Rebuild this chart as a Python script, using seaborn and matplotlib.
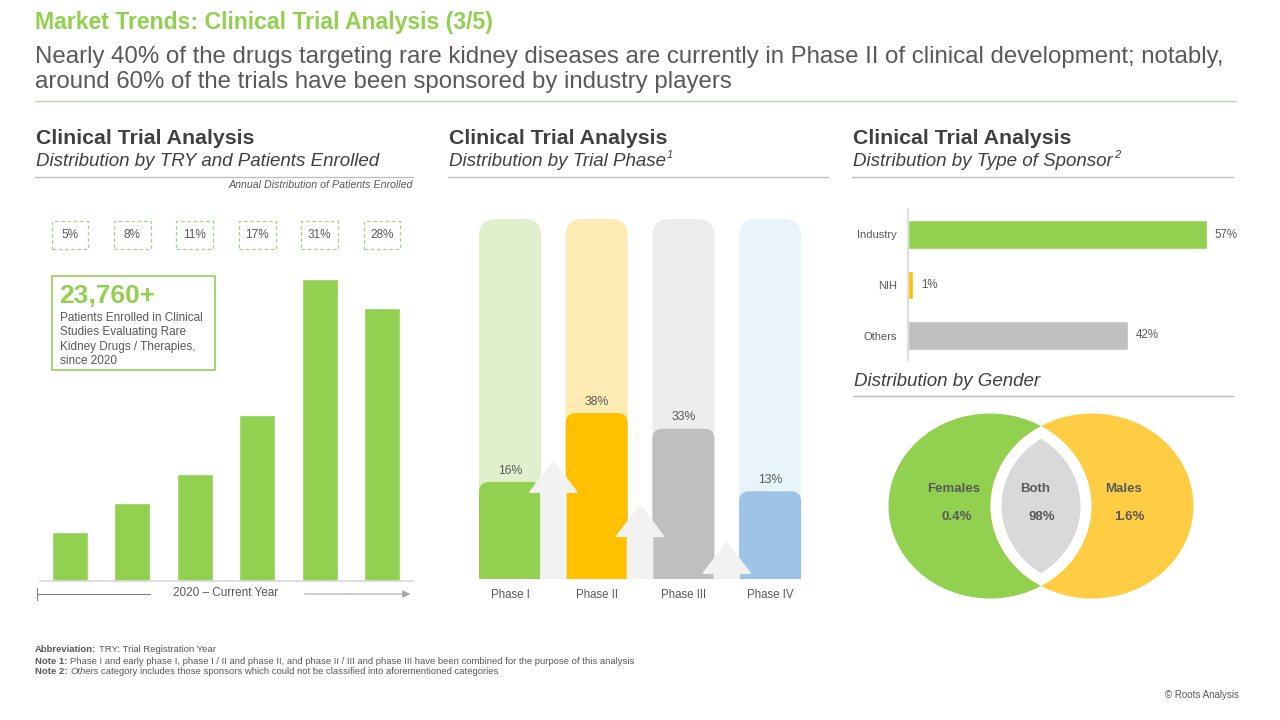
import matplotlib
matplotlib.use('Agg')
import matplotlib.pyplot as plt
import seaborn as sns
from matplotlib.patches import FancyBboxPatch, Rectangle, Ellipse, Polygon

# ---------------- data ----------------
try_years = ['2020', '2021', '2022', '2023', '2024', '2025']
try_share = [5, 8, 11, 17, 31, 28]
patients_total = '23,760+'

phases = ['Phase I', 'Phase II', 'Phase III', 'Phase IV']
phase_share = [16, 38, 33, 13]
phase_full = [100, 100, 100, 100]

sponsors = ['Industry', 'NIH', 'Others']
sponsor_share = [57, 1, 42]

genders = ['Females', 'Both', 'Males']
gender_share = [0.4, 98, 1.6]

# ---------------- style ----------------
GREEN = '#92D050'
YELLOW = '#FFC000'
GREY = '#BFBFBF'
BLUE = '#9DC3E6'
PHASE_FG = [GREEN, YELLOW, GREY, BLUE]
PHASE_BG = ['#E0F0CC', '#FEEBB4', '#EDEDED', '#E8F4FA']
SPONSOR_COL = [GREEN, YELLOW, GREY]
DARK = '#404040'
MID = '#595959'
LINE = '#BFBFBF'

sns.set_theme(style='white')
plt.rcParams['font.family'] = ['Liberation Sans', 'DejaVu Sans']

W, H = 1280, 720
fig = plt.figure(figsize=(12.8, 7.2), dpi=100)
fig.patch.set_facecolor('white')


def px_axes(x0, y0, x1, y1):
    return fig.add_axes([x0 / W, 1 - y1 / H, (x1 - x0) / W, (y1 - y0) / H])


ov = px_axes(0, 0, W, H)
ov.set_xlim(0, W)
ov.set_ylim(H, 0)
ov.axis('off')
renderer = fig.canvas.get_renderer()


def runs(x, y, parts, size, color=MID, gap=0.28):
    for s, kw in parts:
        fs = kw.pop('size', size)
        t = ov.text(x, y, s, fontsize=fs, color=color, ha='left', va='center', **kw)
        bb = t.get_window_extent(renderer=renderer)
        x += bb.width + gap * fs * 100 / 72
    return x


# ---------------- header ----------------
ov.text(35, 22, 'Market Trends: Clinical Trial Analysis (3/5)', fontsize=16.6, fontweight='bold',
        color=GREEN, va='center', ha='left')
ov.text(35, 57, 'Nearly 40% of the drugs targeting rare kidney diseases are currently in Phase II of clinical development; notably,',
        fontsize=17.3, color=MID, va='center', ha='left')
ov.text(35, 82, 'around 60% of the trials have been sponsored by industry players',
        fontsize=17.3, color=MID, va='center', ha='left')
ov.plot([35, 1236], [101, 101], color='#B5D99C', lw=1)

# section headers
for x0, x1, sub, sup in [(36, 413, 'Distribution by TRY and Patients Enrolled', ''),
                         (449, 828, 'Distribution by Trial Phase', '1'),
                         (853, 1233, 'Distribution by Type of Sponsor', '2')]:
    ov.text(x0, 138, 'Clinical Trial Analysis', fontsize=15.3, fontweight='bold', color=DARK,
            va='center', ha='left')
    t = ov.text(x0, 161, sub, fontsize=13.5, fontstyle='italic', color=DARK, va='center', ha='left')
    if sup:
        bb = t.get_window_extent(renderer=renderer)
        ov.text(x0 + bb.width + 1, 155, sup, fontsize=8, fontstyle='italic', color=DARK,
                va='center', ha='left')
    ov.plot([x0 - 1, x1], [177, 177], color=LINE, lw=1)

ov.text(413, 185, 'Annual Distribution of Patients Enrolled', fontsize=7.7, fontstyle='italic',
        color=MID, va='center', ha='right')

# ---------------- left: TRY bars ----------------
ax1 = px_axes(40, 200, 413, 581)
sns.barplot(x=try_years, y=try_share, color=GREEN, width=0.58, saturation=1, ax=ax1)
ax1.set_xlim((40 - 70) / 62.4, (413 - 70) / 62.4)
ax1.set_ylim(0, (581 - 200) / 9.74)
ax1.patch.set_visible(False)
for s in ['top', 'right', 'left']:
    ax1.spines[s].set_visible(False)
ax1.spines['bottom'].set_color('#D9D9D9')
ax1.set_xticks([])
ax1.set_yticks([])
ax1.set_xlabel('')
ax1.set_ylabel('')
for i, v in enumerate(try_share):
    ax1.add_patch(Rectangle((i - 0.295, 34.1), 0.59, 2.87, fill=False, edgecolor='#A9D18E',
                            lw=0.9, linestyle=(0, (3, 2)), clip_on=False))
    ax1.text(i, 35.53, f'{v}%', ha='center', va='center', fontsize=8.5, color=MID, clip_on=False)

# callout box
ov.add_patch(Rectangle((52, 276), 163, 94, fill=False, edgecolor=GREEN, lw=1.2))
ov.text(59, 296, patients_total, fontsize=19, fontweight='bold', color=GREEN, va='center', ha='left')
for k, line in enumerate(['Patients Enrolled in Clinical', 'Studies Evaluating Rare',
                          'Kidney Drugs / Therapies,', 'since 2020']):
    ov.text(60, 318 + 14.4 * k, line, fontsize=8.5, color=MID, va='center', ha='left')

# timeline arrow
ov.plot([37, 150], [594, 594], color='#808080', lw=0.8)
ov.plot([37, 37], [588, 600], color='#808080', lw=0.8)
ov.annotate('', xy=(413, 594), xytext=(302, 594),
            arrowprops=dict(arrowstyle='-|>', color='#A6A6A6', lw=0.8, mutation_scale=11))
ov.text(226, 593, '2020 \u2013 Current Year', fontsize=8.5, color=MID, va='center', ha='center')

# ---------------- middle: trial phase ----------------
PH_BASE = -15
ax2 = px_axes(470, 219, 810, 579)
sns.barplot(x=phases, y=phase_full, hue=phases, palette=PHASE_BG, width=0.715, saturation=1,
            legend=False, ax=ax2)
sns.barplot(x=phases, y=phase_share, hue=phases, palette=PHASE_FG, width=0.715, saturation=1,
            legend=False, ax=ax2)
ax2.set_xlim((470 - 510) / 86.7, (810 - 510) / 86.7)
ax2.set_ylim(PH_BASE, 100)
ax2.patch.set_visible(False)
for s in ax2.spines.values():
    s.set_visible(False)
ax2.set_yticks([])
ax2.set_xlabel('')
ax2.set_ylabel('')
ax2.tick_params(axis='x', length=0, pad=7, labelsize=8.3, labelcolor=MID)

ypx = 360 / 115.0
xpx = 86.7
bars = list(ax2.patches)
for k, p in enumerate(bars):
    x, w = p.get_x(), p.get_width()
    top = p.get_y() + p.get_height()
    fc = p.get_facecolor()
    p.remove()
    r_px = 17 if k < 4 else 10
    rx = r_px / xpx
    asp = (r_px / ypx) / rx
    fb = FancyBboxPatch((x, PH_BASE - 20), w, top - (PH_BASE - 20),
                        boxstyle=f'round,pad=0,rounding_size={rx}', mutation_aspect=asp,
                        facecolor=fc, edgecolor='none', zorder=1 if k < 4 else 2)
    ax2.add_patch(fb)

for i, v in enumerate(phase_share):
    ax2.text(i, v + 3.6, f'{v}%', ha='center', va='center', fontsize=8.8, color=MID)

# decorative arrows between phases
shaft = 24.5 / xpx / 2
head = 23 / xpx
head_h = 30 / ypx
for i, tip in enumerate([22.4, 8.3, -3.5]):
    cx = i + 0.5
    pts = [(cx - shaft, PH_BASE - 1), (cx - shaft, tip - head_h), (cx - head, tip - head_h),
           (cx, tip), (cx + head, tip - head_h), (cx + shaft, tip - head_h), (cx + shaft, PH_BASE - 1)]
    ax2.add_patch(Polygon(pts, closed=True, facecolor='#F2F2F2', edgecolor='#F2F2F2', lw=1.5,
                          joinstyle='round', zorder=3))

# ---------------- right: sponsors ----------------
ax3 = px_axes(908, 209, 1240, 360)
sns.barplot(y=sponsors, x=sponsor_share, hue=sponsors, palette=SPONSOR_COL, orient='h',
            width=0.574, saturation=1, legend=False, ax=ax3)
ax3.set_xlim(0, (1240 - 908) / 5.24)
ax3.set_ylim((360 - 234.5) / 50.5, (209 - 234.5) / 50.5)
ax3.patch.set_visible(False)
for s in ['top', 'right', 'bottom']:
    ax3.spines[s].set_visible(False)
ax3.spines['left'].set_color('#D9D9D9')
ax3.set_xticks([])
ax3.set_xlabel('')
ax3.set_ylabel('')
ax3.tick_params(axis='y', length=0, pad=8, labelsize=8, labelcolor=MID)
for i, v in enumerate(sponsor_share):
    ax3.text(v + 1.5, i, f'{v}%', ha='left', va='center', fontsize=8.3, color=MID)

ov.text(854, 382, 'Distribution by Gender', fontsize=13.5, fontstyle='italic', color=DARK,
        va='center', ha='left')
ov.plot([853, 1233], [396, 396], color=LINE, lw=1)

# ---------------- venn ----------------
ax4 = px_axes(870, 405, 1220, 610)
ax4.set_xlim(870, 1220)
ax4.set_ylim(610, 405)
ax4.axis('off')
L, R, CY, EW, EH = 990, 1092, 506, 203, 185
ax4.add_patch(Ellipse((L, CY), EW, EH, facecolor=GREEN, edgecolor='none'))
ax4.add_patch(Ellipse((R, CY), EW, EH, facecolor='#FFCD44', edgecolor='none'))
clipR = Ellipse((R, CY), EW, EH, transform=ax4.transData)
wl = Ellipse((L, CY), EW, EH, facecolor='white', edgecolor='none')
ax4.add_patch(wl)
wl.set_clip_path(clipR)
m = 22
clipR2 = Ellipse((R, CY), EW - m, EH - m, transform=ax4.transData)
gl = Ellipse((L, CY), EW - m, EH - m, facecolor='#D9D9D9', edgecolor='none')
ax4.add_patch(gl)
gl.set_clip_path(clipR2)
for name, val, (lx, vx) in zip(genders, gender_share, [(954, 957), (1035, 1042), (1124, 1129)]):
    ax4.text(lx, 489, name, ha='center', va='center', fontsize=9.5, fontweight='bold', color=MID)
    ax4.text(vx, 517, f'{val:g}%', ha='center', va='center', fontsize=9.5, fontweight='bold', color=MID)

# ---------------- footer ----------------
runs(35, 650, [('Abbreviation:', dict(fontweight='bold')), ('TRY: Trial Registration Year', {})], 6.8)
runs(35, 661, [('Note 1:', dict(fontweight='bold')),
               ('Phase I and early phase I, phase I / II and phase II, and phase II / III and phase III have been combined for the purpose of this analysis', {})], 6.8)
runs(35, 672, [('Note 2:', dict(fontweight='bold')), ('Others', dict(fontstyle='italic')),
               ('category includes those sponsors which could not be classified into aforementioned categories', {})], 6.8)
ov.text(1239, 695, '\u00a9 Roots Analysis', fontsize=7, color=MID, va='center', ha='right')

fig.savefig('out.png', dpi=100, facecolor='white')
